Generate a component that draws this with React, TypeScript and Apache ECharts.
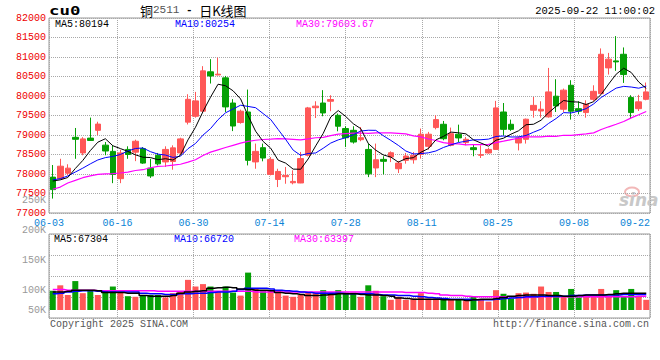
import React, { useEffect, useRef } from 'react';
import * as echarts from 'echarts';

const dates = [
  '06-03','06-04','06-05','06-06','06-09','06-10','06-11','06-12','06-13','06-16',
  '06-17','06-18','06-19','06-20','06-23','06-24','06-25','06-26','06-27','06-30',
  '07-01','07-02','07-03','07-04','07-07','07-08','07-09','07-10','07-11','07-14',
  '07-15','07-16','07-17','07-18','07-21','07-22','07-23','07-24','07-25','07-28',
  '07-29','07-30','07-31','08-01','08-04','08-05','08-06','08-07','08-08','08-11',
  '08-12','08-13','08-14','08-15','08-18','08-19','08-20','08-21','08-22','08-25',
  '08-26','08-27','08-28','08-29','09-01','09-02','09-03','09-04','09-05','09-08',
  '09-09','09-10','09-11','09-12','09-15','09-16','09-17','09-18','09-19','09-22',
];

const open = [
  77920,77880,78020,78940,78540,78920,79120,78740,78580,77880,
  78630,78560,78650,78150,78480,78310,78320,78540,79330,79480,
  79610,80620,80540,80465,79820,79320,79590,78310,78675,77990,
  77860,77930,77775,77770,78480,79700,79820,79865,79505,79165,
  79120,78880,78630,78155,78375,78435,78135,78350,78365,78505,
  78710,79190,79275,78735,79020,78805,78675,78480,78540,78630,
  79590,79275,78795,78890,79635,79615,79465,79995,79660,80275,
  79675,79575,79915,80060,80720,80900,81070,79960,79675,79915,
];
const close = [
  77600,78200,78150,78890,78900,78860,79280,78590,77990,78540,
  78500,78840,78280,77950,78260,78630,78670,78900,79915,79875,
  80645,80515,80560,79720,79230,79610,78350,78580,78410,78375,
  78065,77965,77810,78395,79695,79740,79565,79910,79225,78930,
  78820,78930,78005,78365,78325,78545,78280,78460,78480,79020,
  79020,79395,78905,79035,78925,78890,78625,78495,78630,79695,
  79145,79145,78925,79405,79760,79660,80105,79745,80150,79610,
  79610,79790,80120,81070,80945,80875,80550,79575,79850,80105,
];
const low = [
  77370,77860,77970,78390,78480,78846,79000,78480,77765,77765,
  78390,78330,78260,77900,78220,78180,78110,78500,79270,79445,
  79600,80320,80530,79590,79100,79290,78220,78135,78325,77965,
  77665,77750,77735,77765,78450,79435,79480,79610,79095,78690,
  78780,78840,77920,77920,77990,78305,78025,78265,78265,78395,
  78625,79145,78865,78710,78820,78735,78455,78410,78520,78625,
  78990,79105,78605,78780,79445,79445,79445,79590,79590,79395,
  79530,79445,79865,80045,80550,80645,80335,79420,79615,79890,
];
const high = [
  78230,78390,78250,79180,78945,79446,79340,78820,78735,78620,
  78710,78880,78690,78390,78540,78710,78735,78930,80045,80105,
  80765,80945,80985,80515,79920,79650,80165,78780,78780,78435,
  78135,78180,78095,78565,79720,79865,80150,80020,79550,79225,
  79225,79205,78780,78780,78455,78580,78335,78540,78565,79165,
  79080,79505,79360,79190,79265,78950,78760,78735,78675,79875,
  79820,79395,78965,79420,79975,79865,80720,80430,80190,80405,
  79865,79890,80275,81220,81105,81535,81245,80020,80030,80345,
];

const ma5 = [
  77820,77850,77910,78140,78348,78600,78816,78904,78724,78652,
  78580,78492,78430,78422,78366,78392,78358,78482,78875,79198,
  79601,79970,80302,80263,80134,79927,79494,79098,78836,78665,
  78356,78279,78125,78122,78386,78721,79041,79461,79627,79474,
  79290,79163,78782,78610,78489,78434,78304,78395,78418,78557,
  78652,78875,78964,79075,79056,79030,78876,78794,78713,78867,
  78918,79022,79108,79263,79276,79379,79571,79735,79884,79854,
  79844,79781,79856,80040,80307,80560,80712,80603,80359,80194,
];
const ma10 = [
  77850,77880,77950,78050,78150,78260,78360,78420,78450,78500,
  78590,78654,78667,78573,78509,78486,78425,78456,78649,78782,
  78997,79164,79392,79569,79666,79764,79732,79700,79550,79400,
  79142,78887,78612,78479,78526,78539,78660,78793,78875,78930,
  79006,79102,79122,79119,78982,78862,78734,78589,78514,78523,
  78543,78590,78680,78747,78807,78841,78876,78879,78894,78962,
  78974,78949,78951,78988,79072,79149,79297,79422,79574,79565,
  79612,79676,79796,79962,80081,80202,80247,80230,80200,80254,
];
const ma30 = [
  77610,77665,77770,77835,77905,77950,77990,78005,78010,78025,
  78050,78090,78110,78160,78195,78205,78230,78250,78305,78365,
  78475,78560,78620,78680,78735,78790,78835,78865,78885,78894,
  78909,78902,78890,78874,78900,78930,78939,78983,79024,79037,
  79048,79051,79042,79056,79058,79055,79042,79027,78979,78951,
  78897,78859,78804,78781,78771,78747,78756,78754,78761,78805,
  78841,78880,78917,78951,78953,78951,78969,78963,78994,78990,
  79010,79030,79055,79140,79210,79275,79345,79440,79520,79604,
];

const volume = [
  100000,109000,93000,116000,96000,100000,93000,101000,107000,98000,
  91000,90000,93000,93000,93000,89000,96000,98000,118000,107000,
  111000,107000,98000,107000,97000,92000,130000,104000,100000,100000,
  100000,92000,90000,93000,98000,97000,101000,97000,101000,97000,
  97000,90000,109000,100000,91000,85000,90000,85000,87000,96000,
  87000,87000,87000,86000,86000,83000,90000,85000,82000,101000,
  95000,87000,96000,97000,95000,107000,98000,98000,90000,103000,
  89000,90000,90000,103000,90000,101000,91000,103000,90000,85000,
];
const volMa5 = [
  98000,98000,99000,101000,101000,101000,100000,97000,97000,97000,
  96000,96000,92000,91000,91000,91000,92000,96000,98000,99000,
  100000,104000,105000,106000,105000,103000,102000,101000,101000,100000,
  97000,96000,95000,94000,92000,92000,93000,94000,95000,95000,
  95000,94000,93000,93000,92000,91000,88000,87000,86000,86000,
  86000,86000,85000,85000,85000,84000,85000,86000,86000,87000,
  89000,91000,92000,93000,93000,93000,92000,92000,91000,91000,
  92000,93000,93000,93000,94000,95000,96000,96000,96000,96000,
];
const volMa10 = [
  95000,96000,98000,99000,100000,100000,99000,98000,98000,98000,
  98000,98000,96000,95000,95000,94000,94000,95000,95000,96000,
  96000,97000,98000,98000,99000,102000,104000,104000,104000,103000,
  101000,100000,99000,98000,97000,96000,96000,96000,96000,95000,
  95000,95000,95000,94000,93000,93000,92000,92000,91000,90000,
  89000,88000,87000,86000,86000,86000,85000,85000,85000,86000,
  87000,88000,89000,90000,90000,91000,91000,91000,91000,92000,
  92000,93000,93000,93000,93000,93000,94000,94000,94000,94000,
];
const volMa30 = [
  102000,102000,101000,101000,101000,101000,100000,100000,100000,100000,
  100000,100000,100000,100000,99000,99000,99000,99000,99000,99000,
  99000,99000,99000,99000,99000,99000,99000,98000,98000,98000,
  98000,98000,98000,98000,98000,98000,98000,98000,98000,98000,
  98000,98000,98000,98000,98000,98000,98000,97000,97000,97000,
  96000,95000,93000,92000,92000,91000,90000,90000,90000,90000,
  90000,90000,89000,89000,90000,90000,90000,90000,90000,90000,
  90000,90000,90000,90000,90000,90000,90000,90000,91000,91000,
];

const headerCode = 'cu0';
const titleParts = ['铜', '2511', ' - ', '日K线图'];
const headerTime = '2025-09-22 11:00:02';
const priceLegend = ['MA5:80194', 'MA10:80254', 'MA30:79603.67'];
const volLegend = ['MA5:67304', 'MA10:66720', 'MA30:63397'];

const RED = '#ff5757';
const GREEN = '#05a005';
const BLUE_LBL = '#0a84d6';
const FONT = '"Liberation Mono", "DejaVu Sans Mono", monospace';
const CJK = '"Noto Sans CJK SC", sans-serif';
const GRID_LINE = { color: '#a8a8a8', type: [1, 1] as any, width: 1 };
const showTick = (i: number) => i === 0 || (i + 1) % 10 === 0;

export default function App() {
  const ref = useRef<HTMLDivElement>(null);
  useEffect(() => {
    const chart = echarts.init(ref.current!, null, { renderer: 'svg' });
    const candles = dates.map((_, i) => [open[i], close[i], low[i], high[i]]);
    const volData = volume.map((v, i) => ({
      value: v,
      itemStyle: { color: close[i] >= open[i] ? RED : GREEN },
    }));
    const maLine = (data: number[], color: string, x: number, y: number, w: number, step?: any) => ({
      type: 'line', xAxisIndex: x, yAxisIndex: y, data, symbol: 'none', silent: true,
      step: step || false, z: 5,
      lineStyle: { color, width: w }, emphasis: { disabled: true },
    });
    const legendColors = ['#000000', '#0000ff', '#ff00ff'];
    const legendX = [55, 175, 296];
    const legendXv = [54, 174, 294];
    const txt = (text: string, x: number, y: number, fill: string, extra: any = {}) => ({
      type: 'text', x, y, silent: true,
      style: { text, fill, font: `10px ${FONT}`, verticalAlign: 'middle', ...extra },
    });
    const option: any = {
      animation: false,
      backgroundColor: '#ffffff',
      grid: [
        { left: 49, top: 18, width: 601, height: 195, show: true, borderColor: '#999', borderWidth: 1, backgroundColor: 'transparent' },
        { left: 49, top: 200, width: 601, height: 121, show: false },
        { left: 49, top: 234, width: 601, height: 84, show: true, borderColor: '#999', borderWidth: 1, backgroundColor: 'transparent' },
        { left: 49, top: 234, width: 601, height: 76, show: false },
      ],
      xAxis: [
        { gridIndex: 0, type: 'category', data: dates, boundaryGap: true, show: false },
        {
          gridIndex: 0, type: 'category', data: dates, boundaryGap: false, position: 'bottom',
          axisLine: { show: false }, axisTick: { show: false },
          axisLabel: { interval: showTick, color: BLUE_LBL, fontSize: 10, fontFamily: FONT, margin: 5, alignMaxLabel: 'right', hideOverlap: false },
          splitLine: { show: true, interval: showTick, lineStyle: GRID_LINE },
        },
        { gridIndex: 1, type: 'category', data: dates, show: false },
        {
          gridIndex: 2, type: 'category', data: dates, boundaryGap: false,
          axisLine: { show: false }, axisTick: { show: false }, axisLabel: { show: false },
          splitLine: { show: true, interval: showTick, lineStyle: GRID_LINE },
        },
        { gridIndex: 3, type: 'category', data: dates, boundaryGap: true, show: false },
      ],
      yAxis: [
        {
          gridIndex: 0, type: 'value', min: 77000, max: 82000, interval: 500,
          axisLine: { show: false }, axisTick: { show: false },
          axisLabel: { color: '#ee0000', fontSize: 10, fontFamily: FONT, margin: 3, formatter: (v: number) => String(v) },
          splitLine: { show: true, lineStyle: GRID_LINE },
        },
        {
          gridIndex: 1, type: 'value', min: 50000, max: 250000, interval: 50000,
          axisLine: { show: false }, axisTick: { show: false }, splitLine: { show: false },
          axisLabel: {
            color: '#999', fontSize: 10, fontFamily: FONT, margin: 3,
            formatter: (v: number) => (v === 50000 ? '{lo|50K}' : `${v / 1000}K`),
            rich: { lo: { color: '#999', fontSize: 10, fontFamily: FONT, padding: [0, 0, 22, 0] } },
          },
        },
        {
          gridIndex: 2, type: 'value', min: 0, max: 4, interval: 1,
          axisLine: { show: false }, axisTick: { show: false }, axisLabel: { show: false },
          splitLine: { show: true, lineStyle: GRID_LINE },
        },
        { gridIndex: 3, type: 'value', min: 68200, max: 193800, show: false, splitLine: { show: false } },
      ],
      series: [
        {
          type: 'candlestick', xAxisIndex: 0, yAxisIndex: 0, data: candles, barWidth: 6, silent: true,
          itemStyle: { color: RED, color0: GREEN, borderColor: RED, borderColor0: GREEN, borderWidth: 1 },
        },
        maLine(ma30, '#ff00ff', 0, 0, 1.2),
        maLine(ma10, '#0000ff', 0, 0, 1),
        maLine(ma5, '#000000', 0, 0, 1),
        { type: 'bar', xAxisIndex: 4, yAxisIndex: 3, data: volData, barWidth: 6, silent: true },
        maLine(volMa30, '#ff00ff', 4, 3, 1.5, 'middle'),
        maLine(volMa10, '#0000ff', 4, 3, 1.5, 'middle'),
        maLine(volMa5, '#000000', 4, 3, 1.5, 'middle'),
      ],
      graphic: [
        {
          type: 'text', x: 49, y: 11, scaleX: 1.45, silent: true,
          style: { text: headerCode, fill: '#000', font: `bold 12px "DejaVu Sans Mono", monospace`, verticalAlign: 'middle' },
        },
        {
          type: 'text', x: 140, y: 10, silent: true,
          style: {
            text: `{a|${titleParts[0]}}{b|${titleParts[1]}}{c|${titleParts[2]}}{a|${titleParts[3]}}`,
            verticalAlign: 'middle',
            rich: {
              a: { font: `13px ${CJK}`, fill: '#000' },
              b: { font: `11px ${FONT}`, fill: '#555' },
              c: { font: `bold 11px ${FONT}`, fill: '#000' },
            },
          },
        },
        txt(headerTime, 655, 11, '#000', { font: `10.5px ${FONT}`, align: 'right' }),
        ...priceLegend.map((t, k) => txt(t, legendX[k], 24, legendColors[k])),
        ...volLegend.map((t, k) => txt(t, legendXv[k], 239, legendColors[k])),
        txt('Copyright 2025 SINA.COM', 50, 324, '#555'),
        txt('http://finance.sina.com.cn', 649, 324, '#555', { align: 'right' }),
        { type: 'ellipse', silent: true, shape: { cx: 632, cy: 192, rx: 7, ry: 4.5 }, style: { fill: 'none', stroke: '#f2b8b8', lineWidth: 2 } },
        txt('sina', 619, 200, '#c8c8c8', { font: `italic bold 17px "DejaVu Sans", sans-serif` }),
      ],
    };
    chart.setOption(option);
    return () => chart.dispose();
  }, []);
  return <div ref={ref} style={{ position: 'fixed', left: 0, top: 0, width: 660, height: 360 }} />;
}
